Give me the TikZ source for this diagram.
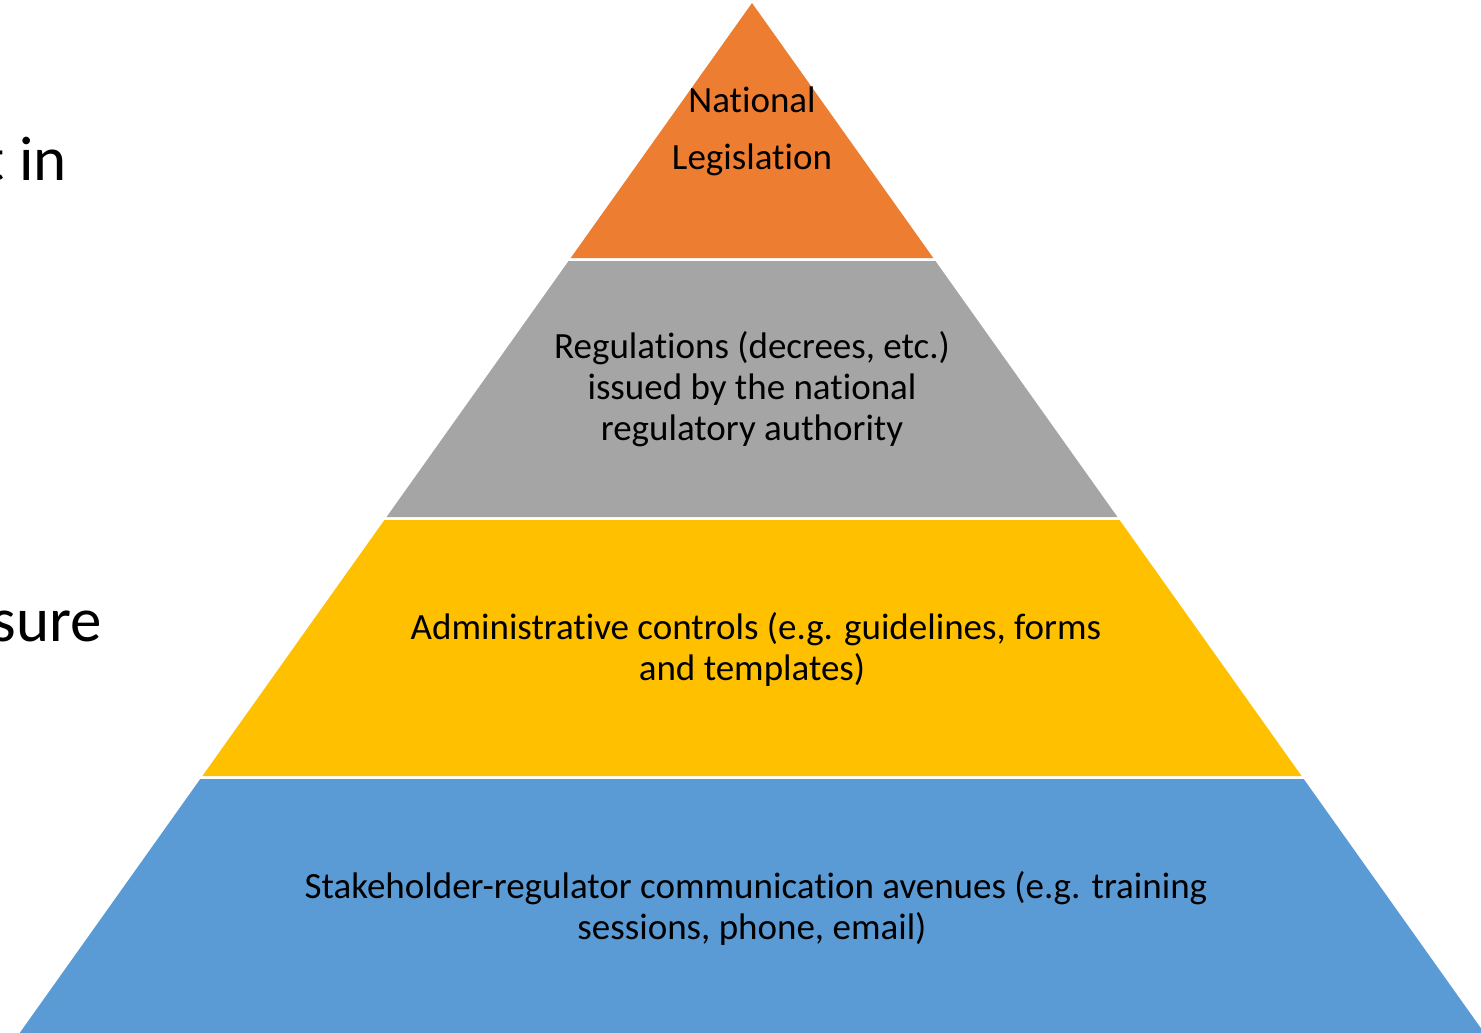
\documentclass[tikz,border=0pt]{standalone}
\usepackage{fontspec}
\setmainfont{Carlito}[Ligatures=NoCommon]
\definecolor{layerorange}{HTML}{ED7D31}
\definecolor{layergray}{HTML}{A5A5A5}
\definecolor{layeryellow}{HTML}{FFC000}
\definecolor{layerblue}{HTML}{5B9BD5}
\begin{document}
\begin{tikzpicture}[x=1pt,y=-1pt,
  lbl/.style={anchor=base,inner sep=0pt,font=\fontsize{37}{41}\selectfont},
  side/.style={anchor=base east,inner sep=0pt,font=\fontsize{63}{76}\selectfont}]
\useasboundingbox (0,0) rectangle (1481,1033);
\def\k{0.711}
% layers
\fill[layerorange] (752,3) -- ({752-\k*255},258) -- ({752+\k*255},258) -- cycle;
\fill[layergray] ({752-\k*258},261) -- ({752+\k*258},261) -- ({752+\k*514},517) -- ({752-\k*514},517) -- cycle;
\fill[layeryellow] ({752-\k*517},520) -- ({752+\k*517},520) -- ({752+\k*773},776) -- ({752-\k*773},776) -- cycle;
\fill[layerblue] ({752-\k*776},779) -- ({752+\k*776},779) -- ({752+\k*1050},1053) -- ({752-\k*1050},1053) -- cycle;
% texts
\node[lbl] (n1) at (752,112) {National};
\node[lbl] (n2) at (752,169) {Legislation};
\node[lbl] (r1) at (752,358) {Regulations (decrees, etc.)};
\node[lbl] (r2) at (752,399) {issued by the national};
\node[lbl] (r3) at (752,440) {regulatory authority};
\node[lbl] (a1) at (756,639) {Administrative controls (e.g. guidelines, forms};
\node[lbl] (a2) at (752,680) {and templates)};
\node[lbl] (s1) at (756,898) {Stakeholder-regulator communication avenues (e.g. training};
\node[lbl] (s2) at (752,939) {sessions, phone, email)};
% cut-off side text
\node[side] (t1) at (67,180) {t in};
\node[side] (t2) at (102,641) {sure};
\end{tikzpicture}
\end{document}
